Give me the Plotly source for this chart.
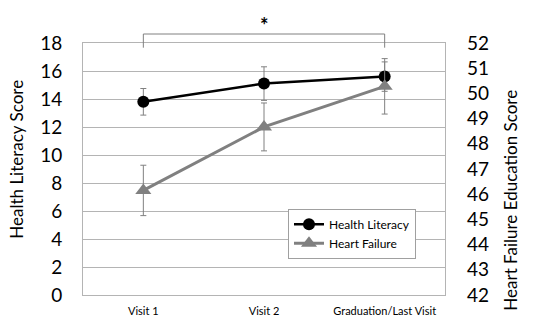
import plotly.graph_objects as go

visits = ["Visit 1", "Visit 2", "Graduation/Last Visit"]

health_literacy = [13.8, 15.1, 15.6]
health_literacy_err = [0.95, 1.2, 1.05]

heart_failure = [46.15, 48.67, 50.28]
heart_failure_err = [1.0, 0.95, 1.1]

left_ticks = list(range(0, 19, 2))
right_ticks = list(range(42, 53, 1))

FONT = "Lato, 'Open Sans', sans-serif"
GRID = "#b4b4b4"
GRAY = "#808080"

fig = go.Figure()

fig.add_trace(go.Scatter(
    x=visits, y=health_literacy, name="Health Literacy",
    mode="lines+markers",
    line=dict(color="black", width=2.5),
    marker=dict(symbol="circle", size=12, color="black"),
    error_y=dict(type="data", array=health_literacy_err, color=GRAY,
                 thickness=1, width=3),
    yaxis="y",
))

fig.add_trace(go.Scatter(
    x=visits, y=heart_failure, name="Heart Failure",
    mode="lines+markers",
    line=dict(color=GRAY, width=3),
    marker=dict(symbol="triangle-up", size=14, color=GRAY),
    error_y=dict(type="data", array=heart_failure_err, color=GRAY,
                 thickness=1, width=3),
    yaxis="y2",
))

# significance bracket between first and last visit
y_leg = (295.3 - 48) / 252
y_bar = (295.3 - 34.3) / 252
for v in (visits[0], visits[2]):
    fig.add_shape(type="line", xref="x", yref="paper",
                  x0=v, x1=v, y0=y_leg, y1=y_bar,
                  line=dict(color=GRAY, width=1))
fig.add_shape(type="line", xref="x", yref="paper",
              x0=visits[0], x1=visits[2], y0=y_bar, y1=y_bar,
              line=dict(color=GRAY, width=1))
fig.add_annotation(x=visits[1], xref="x", y=(295.3 - 25) / 252, yref="paper",
                   xanchor="center", yanchor="middle",
                   text="<b>*</b>", showarrow=False,
                   font=dict(family=FONT, size=20, color="black"))

# axis titles
fig.add_annotation(x=(17 - 83) / 362, xref="paper", y=(295.3 - 160) / 252, yref="paper",
                   xanchor="center", yanchor="middle",
                   text="Health Literacy Score", textangle=-90, showarrow=False,
                   font=dict(family=FONT, size=17, color="black"))
fig.add_annotation(x=(511 - 83) / 362, xref="paper", y=(295.3 - 201) / 252, yref="paper",
                   xanchor="center", yanchor="middle",
                   text="Heart Failure Education Score", textangle=-90, showarrow=False,
                   font=dict(family=FONT, size=17, color="black"))

fig.update_layout(
    width=534, height=333,
    margin=dict(l=83, r=89, t=43, b=38),
    paper_bgcolor="white", plot_bgcolor="white",
    font=dict(family=FONT, color="black"),
    showlegend=True,
    legend=dict(x=(288 - 83) / 362, y=(295.3 - 209) / 252, xanchor="left", yanchor="top",
                bordercolor="#a0a0a0", borderwidth=1, bgcolor="white",
                font=dict(family=FONT, size=12, color="black"),
                itemwidth=30, tracegroupgap=4),
    xaxis=dict(
        type="category", range=[-0.5, 2.5],
        showgrid=False, showline=True, linecolor=GRID, linewidth=1, mirror=True,
        ticks="", tickfont=dict(family=FONT, size=11, color="black"),
        ticklabelstandoff=6,
    ),
    yaxis=dict(
        range=[0, 18], tickvals=left_ticks, ticktext=[str(v) for v in left_ticks],
        showgrid=True, gridcolor=GRID, gridwidth=1,
        showline=True, linecolor=GRID, linewidth=1, mirror=True,
        zeroline=False, ticks="",
        tickfont=dict(family=FONT, size=19, color="black"),
        ticklabelstandoff=16,
    ),
    yaxis2=dict(
        range=[42, 52], tickvals=right_ticks, ticktext=[str(v) for v in right_ticks],
        overlaying="y", side="right", showgrid=False, zeroline=False,
        showline=False, ticks="",
        tickfont=dict(family=FONT, size=19, color="black"),
        ticklabelstandoff=21,
    ),
)

fig.write_html("out.html")
